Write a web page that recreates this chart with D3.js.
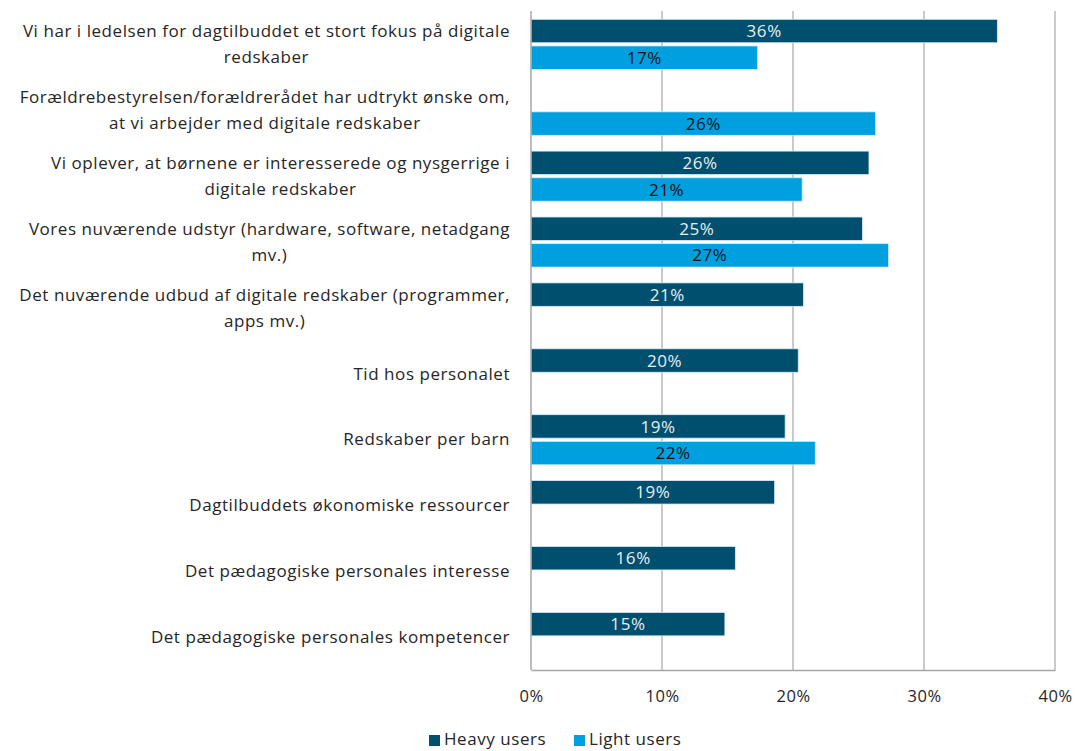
<!DOCTYPE html>
<html>
<head>
<meta charset="utf-8">
<script src="https://cdn.jsdelivr.net/npm/d3@7"></script>
<style>
  html, body { margin: 0; padding: 0; background: #ffffff; }
  svg { display: block; }
  text { font-family: "Open Sans", Lato, sans-serif; }
</style>
</head>
<body>
<svg id="chart" width="1077" height="751"></svg>
<script>
// Survey items (lines broken where the label wraps)
const categories = [
  "Vi har i ledelsen for dagtilbuddet et stort fokus på digitale\nredskaber",
  "Forældrebestyrelsen/forældrerådet har udtrykt ønske om,\nat vi arbejder med digitale redskaber",
  "Vi oplever, at børnene er interesserede og nysgerrige i\ndigitale redskaber",
  "Vores nuværende udstyr (hardware, software, netadgang\nmv.)",
  "Det nuværende udbud af digitale redskaber (programmer,\napps mv.)",
  "Tid hos personalet",
  "Redskaber per barn",
  "Dagtilbuddets økonomiske ressourcer",
  "Det pædagogiske personales interesse",
  "Det pædagogiske personales kompetencer"
];

const seriesNames = ["Heavy users", "Light users"];

// Shares (%) per item; null where the group has no bar
const heavyUsers = [35.6, null, 25.8, 25.3, 20.8, 20.4, 19.4, 18.6, 15.6, 14.8];
const lightUsers = [17.3, 26.3, 20.7, 27.3, null, null, 21.7, null, null, null];

const xTicks = [0, 10, 20, 30, 40];

const colors = ["#004f6e", "#009fe0"];
const labelColors = ["#e8eef2", "#111111"];

const fontSize = 17;
const spacing = "0.55px";

const svg = d3.select("#chart");
const plotLeft = 531, plotRight = 1055, plotTop = 11, plotBottom = 670;

const x = d3.scaleLinear().domain([0, 40]).range([plotLeft, plotRight]);
const y = d3.scaleBand().domain(d3.range(categories.length)).range([plotTop, plotBottom]).paddingInner(0).paddingOuter(0);
const inner = d3.scaleBand().domain([0, 1]).range([8.3, y.bandwidth() - 7.5]).paddingInner(0.12);

// vertical gridlines
svg.append("g")
  .selectAll("line")
  .data(xTicks.slice(1))
  .join("line")
  .attr("x1", d => x(d)).attr("x2", d => x(d))
  .attr("y1", plotTop).attr("y2", plotBottom)
  .attr("stroke", "#a6a6a6").attr("stroke-width", 1.2);

// bars
const series = [heavyUsers, lightUsers];
const rows = [];
series.forEach((vals, s) => vals.forEach((v, i) => { if (v != null) rows.push({ s, i, v }); }));

const barG = svg.append("g");
barG.selectAll("rect")
  .data(rows)
  .join("rect")
  .attr("x", x(0))
  .attr("y", d => y(d.i) + inner(d.s))
  .attr("width", d => x(d.v) - x(0))
  .attr("height", inner.bandwidth())
  .attr("fill", d => colors[d.s])
  .attr("stroke", "#d9ecf4")
  .attr("stroke-width", 0.8);

barG.selectAll("text")
  .data(rows)
  .join("text")
  .attr("x", d => (x(0) + x(d.v)) / 2)
  .attr("y", d => y(d.i) + inner(d.s) + inner.bandwidth() / 2)
  .attr("dy", "0.36em")
  .attr("text-anchor", "middle")
  .attr("font-size", fontSize)
  .attr("letter-spacing", spacing)
  .attr("fill", d => labelColors[d.s])
  .text(d => Math.round(d.v) + "%");

// y axis line
svg.append("line")
  .attr("x1", plotLeft).attr("x2", plotLeft)
  .attr("y1", plotTop).attr("y2", plotBottom)
  .attr("stroke", "#a6a6a6").attr("stroke-width", 1.5);

// x axis
const xAxis = d3.axisBottom(x).tickValues(xTicks).tickSize(0).tickPadding(20).tickFormat(d => d + "%");
const xg = svg.append("g").attr("transform", `translate(0,${plotBottom})`).call(xAxis);
xg.select(".domain").attr("stroke", "#a6a6a6").attr("stroke-width", 1.5);
xg.selectAll("text")
  .attr("font-size", 16.5)
  .attr("letter-spacing", spacing)
  .attr("fill", "#262626")
  .attr("font-family", "'Open Sans', sans-serif");

// category labels
const catG = svg.append("g");
categories.forEach((c, i) => {
  const lines = c.split("\n");
  const cy = y(i) + y.bandwidth() / 2;
  const lh = 26;
  const t = catG.append("text")
    .attr("font-size", fontSize)
    .attr("letter-spacing", spacing)
    .attr("fill", "#262626")
    .attr("text-anchor", "end");
  lines.forEach((ln, k) => {
    t.append("tspan")
      .attr("x", 510)
      .attr("y", cy + (k - (lines.length - 1) / 2) * lh)
      .attr("dy", "0.36em")
      .text(ln);
  });
  // center wrapped lines under the widest line
  if (lines.length > 1) {
    const spans = t.selectAll("tspan").nodes();
    const widths = spans.map(n => n.getComputedTextLength());
    const maxW = d3.max(widths);
    spans.forEach((n, k) => {
      d3.select(n).attr("x", 510 - (maxW - widths[k]) / 2);
    });
  }
});

// legend
const legend = svg.append("g");
const legendX = [429, 574];
seriesNames.forEach((name, s) => {
  legend.append("rect")
    .attr("x", legendX[s]).attr("y", 735)
    .attr("width", 11).attr("height", 11)
    .attr("fill", colors[s]);
  legend.append("text")
    .attr("x", legendX[s] + 15).attr("y", 745)
    .attr("font-size", fontSize)
    .attr("letter-spacing", spacing)
    .attr("fill", "#262626")
    .text(name);
});
</script>
</body>
</html>
